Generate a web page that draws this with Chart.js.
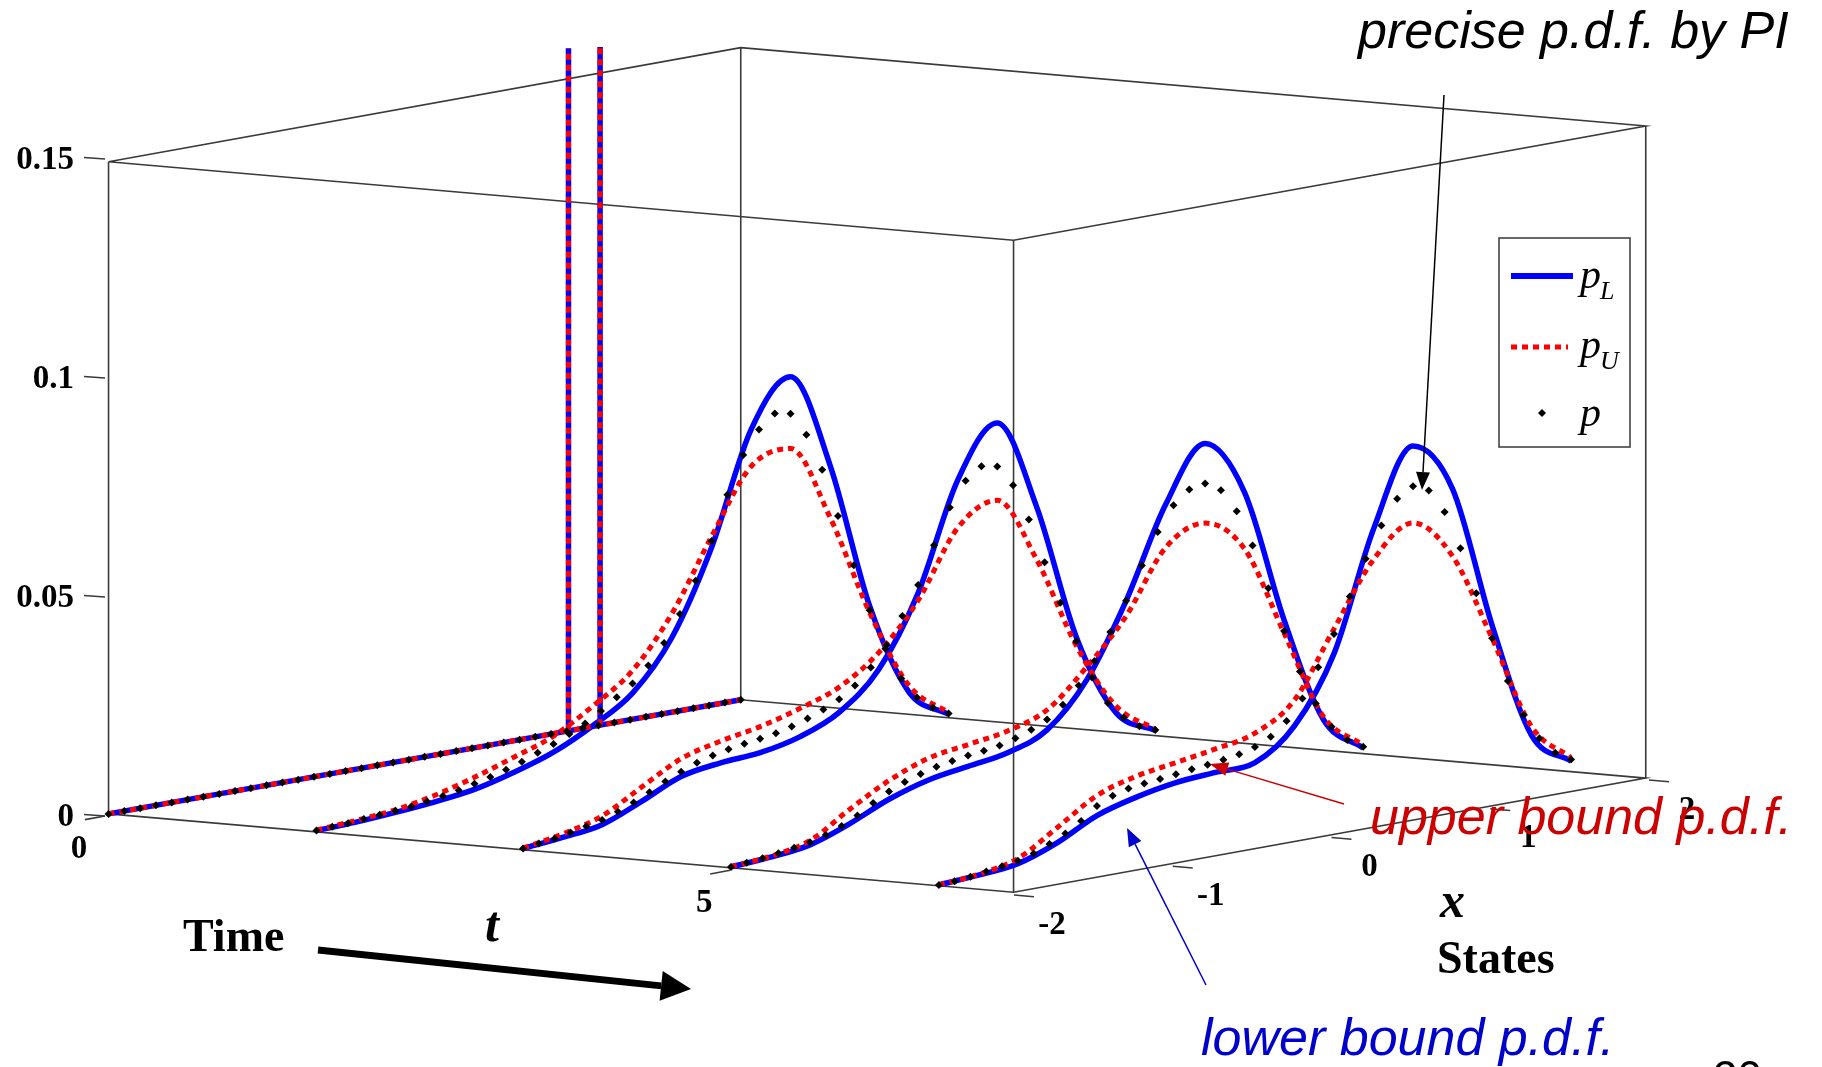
<!DOCTYPE html>
<html>
<head>
<meta charset="utf-8">
<script src="https://cdn.jsdelivr.net/npm/chart.js@4.4.1/dist/chart.umd.min.js"></script>
<style>
  html, body { margin: 0; padding: 0; background: #fff; }
  #wrap { width: 1822px; height: 1067px; }
</style>
</head>
<body>
<div id="wrap"><canvas id="grafico" width="1822" height="1067"></canvas></div>
<script>
// tempos das fatias e limites dos eixos
const tempos = [0, 1.67, 3.33, 5, 6.67];
const tMax = 7.27;
const xLim = [-2, 2];
const pLim = [0, 0.15];

const ticksP = [0, 0.05, 0.1, 0.15];
const rotulosP = ['0', '0.05', '0.1', '0.15'];
const ticksT = [0, 5];
const rotulosT = ['0', '5'];
const ticksX = [-2, -1, 0, 1, 2];
const rotulosX = ['-2', '-1', '0', '1', '2'];

// grade dos estados
const gradeX = [-2, -1.75, -1.5, -1.25, -1, -0.75, -0.5, -0.25, 0, 0.25, 0.5, 0.75, 1, 1.25, 1.5, 1.75, 2];
const gradePontos = [-2, -1.9, -1.8, -1.7, -1.6, -1.5, -1.4, -1.3, -1.2, -1.1,
  -1, -0.9, -0.8, -0.7, -0.6, -0.5, -0.4, -0.3, -0.2, -0.1,
  0, 0.1, 0.2, 0.3, 0.4, 0.5, 0.6, 0.7, 0.8, 0.9,
  1, 1.1, 1.2, 1.3, 1.4, 1.5, 1.6, 1.7, 1.8, 1.9, 2];

// condicao inicial (t = 0): base nula e dois impulsos (cortados no topo)
const inicialX = [-2, 0.91, 1.11, 2];
const inicialP = [0, 0, 0, 0];
const impulsoX = [0.91, 1.11];
const impulsoP = [0.157, 0.156];
const inicialPontos = [0, 0, 0, 0, 0, 0, 0, 0, 0, 0,
  0, 0, 0, 0, 0, 0, 0, 0, 0, 0,
  0, 0, 0, 0, 0, 0, 0, 0, 0, 0,
  0, 0, 0, 0, 0, 0, 0, 0, 0, 0, 0];

// t = 1.67
const pL1 = [0.0003, 0.0006, 0.0012, 0.0020, 0.0032, 0.0055, 0.0085, 0.0130, 0.0188, 0.0300, 0.0490, 0.0745, 0.0850, 0.0630, 0.0290, 0.0075, 0.0008];
const pU1 = [0.0004, 0.0010, 0.0018, 0.0035, 0.0060, 0.0090, 0.0122, 0.0175, 0.0240, 0.0355, 0.0515, 0.0660, 0.0685, 0.0510, 0.0275, 0.0090, 0.0012];
const p1 = [0.0003, 0.0005, 0.0007, 0.0010, 0.0013, 0.0016, 0.0019, 0.0024, 0.0030, 0.0037,
  0.0045, 0.0054, 0.0064, 0.0076, 0.0090, 0.0104, 0.0120, 0.0138, 0.0160, 0.0185,
  0.0210, 0.0245, 0.0290, 0.0350, 0.0420, 0.0505, 0.0605, 0.0690, 0.0742, 0.0772,
  0.0765, 0.0710, 0.0623, 0.0510, 0.0390, 0.0280, 0.0185, 0.0110, 0.0060, 0.0030, 0.0010];

// t = 3.33
const pL2 = [0.0003, 0.0012, 0.0025, 0.0062, 0.0103, 0.0118, 0.0125, 0.0145, 0.0185, 0.0267, 0.0427, 0.0670, 0.0785, 0.0575, 0.0260, 0.0070, 0.0012];
const pU2 = [0.0004, 0.0020, 0.0045, 0.0095, 0.0144, 0.0168, 0.0185, 0.0210, 0.0243, 0.0306, 0.0410, 0.0560, 0.0607, 0.0454, 0.0240, 0.0085, 0.0015];
const p2 = [0.0003, 0.0008, 0.0013, 0.0020, 0.0028, 0.0036, 0.0048, 0.0063, 0.0080, 0.0098,
  0.0114, 0.0128, 0.0138, 0.0146, 0.0152, 0.0157, 0.0163, 0.0172, 0.0184, 0.0198,
  0.0215, 0.0240, 0.0275, 0.0320, 0.0380, 0.0445, 0.0530, 0.0610, 0.0665, 0.0692,
  0.0685, 0.0635, 0.0550, 0.0445, 0.0345, 0.0250, 0.0160, 0.0095, 0.0055, 0.0028, 0.0013];

// t = 5
const pL3 = [0.0002, 0.0008, 0.0020, 0.0052, 0.0092, 0.0120, 0.0135, 0.0150, 0.0186, 0.0284, 0.0450, 0.0655, 0.0779, 0.0650, 0.0340, 0.0094, 0.0013];
const pU3 = [0.0003, 0.0010, 0.0030, 0.0085, 0.0135, 0.0170, 0.0185, 0.0200, 0.0232, 0.0314, 0.0415, 0.0556, 0.0596, 0.0520, 0.0310, 0.0101, 0.0020];
const p3 = [0.0002, 0.0005, 0.0009, 0.0014, 0.0020, 0.0026, 0.0036, 0.0050, 0.0068, 0.0090,
  0.0110, 0.0125, 0.0137, 0.0147, 0.0154, 0.0160, 0.0164, 0.0170, 0.0180, 0.0193,
  0.0210, 0.0237, 0.0275, 0.0325, 0.0385, 0.0450, 0.0525, 0.0595, 0.0650, 0.0680,
  0.0687, 0.0665, 0.0610, 0.0525, 0.0420, 0.0315, 0.0215, 0.0135, 0.0075, 0.0038, 0.0016];

// t = 6.67
const pL4 = [0.0002, 0.0008, 0.0018, 0.0050, 0.0096, 0.0122, 0.0139, 0.0146, 0.0152, 0.0220, 0.0370, 0.0640, 0.0815, 0.0700, 0.0370, 0.0100, 0.0024];
const pU4 = [0.0002, 0.0010, 0.0030, 0.0085, 0.0142, 0.0170, 0.0185, 0.0200, 0.0220, 0.0280, 0.0427, 0.0570, 0.0638, 0.0545, 0.0340, 0.0120, 0.0032];
const p4 = [0.0002, 0.0004, 0.0008, 0.0013, 0.0019, 0.0025, 0.0035, 0.0050, 0.0068, 0.0090,
  0.0118, 0.0135, 0.0145, 0.0150, 0.0154, 0.0158, 0.0163, 0.0167, 0.0172, 0.0178,
  0.0188, 0.0205, 0.0235, 0.0280, 0.0345, 0.0415, 0.0495, 0.0575, 0.0645, 0.0700,
  0.0722, 0.0706, 0.0650, 0.0560, 0.0450, 0.0340, 0.0235, 0.0150, 0.0090, 0.0050, 0.0028];

const fatiasL = [pL1, pL2, pL3, pL4];
const fatiasU = [pU1, pU2, pU3, pU4];
const fatiasP = [p1, p2, p3, p4];

// vista 3D (projecao ortografica, em pixels)
const vista = { ox: 105, oy: 816, tx: 909, ty: 79, xx: 635, xy: -115, pz: 657 };

function proj(t, x, p) {
  const ft = t / tMax;
  const fx = (x - xLim[0]) / (xLim[1] - xLim[0]);
  const fp = (p - pLim[0]) / (pLim[1] - pLim[0]);
  return {
    x: vista.ox + ft * vista.tx + fx * vista.xx,
    y: vista.oy + ft * vista.ty + fx * vista.xy - fp * vista.pz
  };
}

function curva(t, xs, ps) {
  return xs.map((x, i) => proj(t, x, ps[i]));
}

const AZUL = '#0000ff';
const VERMELHO = '#ff0000';
const CAIXA = '#3a3a3a';

const datasets = [];

function linhaCaixa(pontos) {
  datasets.push({
    data: pontos.map(c => proj(c[0], c[1], c[2])),
    showLine: true, pointRadius: 0, borderColor: CAIXA, borderWidth: 1.6,
    order: 10
  });
}

function linhaAzul(dados, suave) {
  datasets.push({ data: dados, showLine: true, pointRadius: 0, borderColor: AZUL, borderWidth: 5.5,
    borderJoinStyle: 'round', cubicInterpolationMode: suave ? 'monotone' : 'default', order: 3 });
}

function linhaVermelha(dados, suave) {
  datasets.push({ data: dados, showLine: true, pointRadius: 0, borderColor: VERMELHO, borderWidth: 5,
    borderDash: [6, 5], borderCapStyle: 'butt', cubicInterpolationMode: suave ? 'monotone' : 'default', order: 2 });
}

function pontosPretos(dados) {
  datasets.push({ data: dados, showLine: false, pointRadius: 4, pointStyle: 'rectRot',
    backgroundColor: '#000', borderColor: '#000', borderWidth: 0, order: 1 });
}

// arestas da caixa
linhaCaixa([[0, xLim[0], pLim[0]], [0, xLim[0], pLim[1]]]);
linhaCaixa([[0, xLim[1], pLim[0]], [0, xLim[1], pLim[1]]]);
linhaCaixa([[tMax, xLim[0], pLim[0]], [tMax, xLim[0], pLim[1]]]);
linhaCaixa([[tMax, xLim[1], pLim[0]], [tMax, xLim[1], pLim[1]]]);
linhaCaixa([[0, xLim[0], pLim[1]], [0, xLim[1], pLim[1]], [tMax, xLim[1], pLim[1]], [tMax, xLim[0], pLim[1]], [0, xLim[0], pLim[1]]]);
linhaCaixa([[0, xLim[1], pLim[0]], [tMax, xLim[1], pLim[0]], [tMax, xLim[0], pLim[0]], [0, xLim[0], pLim[0]]]);

// t = 0
linhaAzul(curva(0, inicialX, inicialP), false);
linhaVermelha(curva(0, inicialX, inicialP), false);
impulsoX.forEach((x, i) => {
  const seg = curva(0, [x, x], [0, impulsoP[i]]);
  linhaAzul(seg, false);
  linhaVermelha(seg, false);
});
pontosPretos(curva(0, gradePontos, inicialPontos));

// demais instantes
for (let k = 0; k < 4; k++) {
  const t = tempos[k + 1];
  linhaAzul(curva(t, gradeX, fatiasL[k]), true);
  linhaVermelha(curva(t, gradeX, fatiasU[k]), true);
  pontosPretos(curva(t, gradePontos, fatiasP[k]));
}

function seta(ctx, x1, y1, x2, y2, cor, largura, cab, abert) {
  const ang = Math.atan2(y2 - y1, x2 - x1);
  const bx = x2 - cab * Math.cos(ang), by = y2 - cab * Math.sin(ang);
  ctx.strokeStyle = cor; ctx.fillStyle = cor; ctx.lineWidth = largura;
  ctx.beginPath(); ctx.moveTo(x1, y1); ctx.lineTo(bx, by); ctx.stroke();
  ctx.beginPath();
  ctx.moveTo(x2, y2);
  ctx.lineTo(bx + abert * Math.sin(ang), by - abert * Math.cos(ang));
  ctx.lineTo(bx - abert * Math.sin(ang), by + abert * Math.cos(ang));
  ctx.closePath(); ctx.fill();
}

const sobreposicao = {
  id: 'sobreposicao',
  afterDraw(chart) {
    const ctx = chart.ctx;
    ctx.save();

    // marcas dos eixos
    ctx.strokeStyle = CAIXA; ctx.lineWidth = 1.6;
    ticksP.forEach(v => {
      const a = proj(0, xLim[0], v);
      ctx.beginPath(); ctx.moveTo(a.x, a.y); ctx.lineTo(a.x - 21, a.y - 1.5); ctx.stroke();
    });
    ticksT.forEach(v => {
      const a = proj(v, xLim[0], 0);
      ctx.beginPath(); ctx.moveTo(a.x, a.y); ctx.lineTo(a.x - 20, a.y + 3.6); ctx.stroke();
    });
    ticksX.forEach(v => {
      const a = proj(tMax, v, 0);
      ctx.beginPath(); ctx.moveTo(a.x, a.y); ctx.lineTo(a.x + 20, a.y + 1.7); ctx.stroke();
    });

    // rotulos dos ticks
    ctx.fillStyle = '#000';
    ctx.font = 'bold 33px "Liberation Serif"';
    ctx.textBaseline = 'middle';
    ctx.textAlign = 'right';
    ticksP.forEach((v, i) => {
      const a = proj(0, xLim[0], v);
      ctx.fillText(rotulosP[i], a.x - 31, a.y + 1);
    });
    ctx.textAlign = 'center';
    ticksT.forEach((v, i) => {
      const a = proj(v, xLim[0], 0);
      ctx.fillText(rotulosT[i], a.x - 26, a.y + 33);
    });
    ticksX.forEach((v, i) => {
      const a = proj(tMax, v, 0);
      ctx.fillText(rotulosX[i], a.x + 38, a.y + 30);
    });

    // titulos dos eixos
    ctx.textBaseline = 'alphabetic';
    ctx.textAlign = 'left';
    ctx.font = 'bold 46px "Liberation Serif"';
    ctx.fillText('Time', 183, 951);
    ctx.fillText('States', 1437, 973);
    ctx.font = 'italic bold 50px "Liberation Serif"';
    ctx.fillText('t', 485, 941);
    ctx.fillText('x', 1440, 917);

    seta(ctx, 318, 950, 691, 989, '#000', 7, 30, 15);

    // legenda
    ctx.fillStyle = '#fff';
    ctx.fillRect(1499, 238, 131, 209);
    ctx.strokeStyle = '#444'; ctx.lineWidth = 1.6;
    ctx.strokeRect(1499, 238, 131, 209);
    ctx.lineWidth = 6; ctx.strokeStyle = AZUL;
    ctx.beginPath(); ctx.moveTo(1511, 276); ctx.lineTo(1573, 276); ctx.stroke();
    ctx.lineWidth = 5; ctx.strokeStyle = VERMELHO; ctx.setLineDash([6, 5]); ctx.lineCap = 'butt';
    ctx.beginPath(); ctx.moveTo(1511, 347); ctx.lineTo(1568, 347); ctx.stroke();
    ctx.setLineDash([]);
    ctx.fillStyle = '#000';
    ctx.beginPath();
    ctx.moveTo(1542, 409); ctx.lineTo(1546, 413); ctx.lineTo(1542, 417); ctx.lineTo(1538, 413);
    ctx.closePath(); ctx.fill();
    ctx.font = 'italic 42px "Liberation Serif"';
    ctx.fillText('p', 1580, 288);
    ctx.fillText('p', 1580, 358);
    ctx.fillText('p', 1580, 426);
    ctx.font = 'italic 26px "Liberation Serif"';
    ctx.fillText('L', 1600, 299);
    ctx.fillText('U', 1600, 369);

    // anotacoes
    ctx.font = 'italic 52px "Liberation Sans"';
    ctx.fillStyle = '#000';
    ctx.fillText('precise p.d.f. by PI', 1358, 48);
    seta(ctx, 1444, 95, 1422, 490, '#000', 1.5, 18, 7);

    ctx.fillStyle = '#cc0000';
    ctx.fillText('upper bound p.d.f.', 1370, 834);
    seta(ctx, 1344, 804, 1210, 764, '#cc0000', 1.5, 18, 7);

    ctx.fillStyle = '#0000cc';
    ctx.fillText('lower bound p.d.f.', 1201, 1055);
    seta(ctx, 1206, 985, 1127, 828, '#0000cc', 1.5, 18, 7);

    ctx.fillStyle = '#000';
    ctx.font = '44px "Liberation Sans"';
    ctx.fillText('20', 1713, 1092);

    ctx.restore();
  }
};

new Chart(document.getElementById('grafico').getContext('2d'), {
  type: 'scatter',
  data: { datasets: datasets },
  options: {
    responsive: false,
    animation: false,
    devicePixelRatio: 1,
    layout: { padding: 0 },
    events: [],
    plugins: { legend: { display: false }, tooltip: { enabled: false } },
    scales: {
      x: { type: 'linear', min: 0, max: 1822, display: false },
      y: { type: 'linear', min: 0, max: 1067, reverse: true, display: false }
    }
  },
  plugins: [sobreposicao]
});
</script>
</body>
</html>
